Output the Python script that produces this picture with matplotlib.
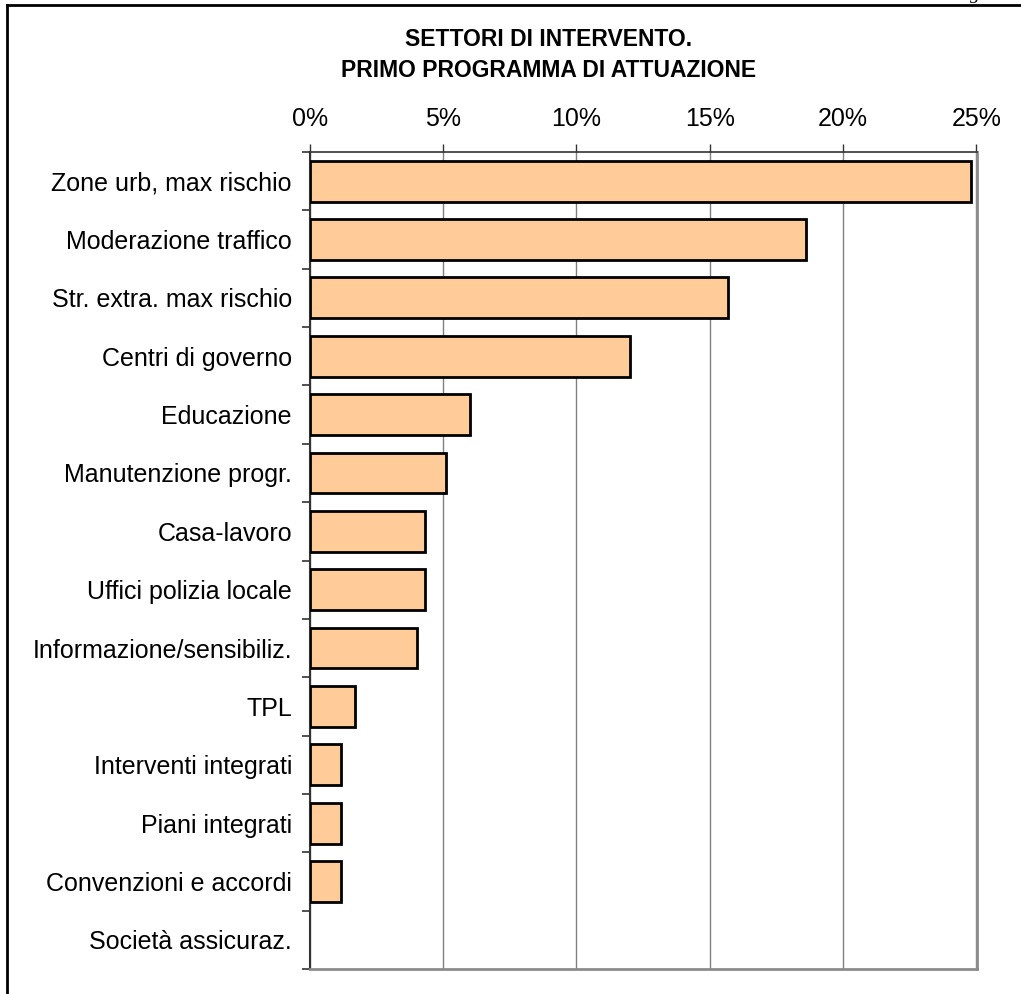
import matplotlib.pyplot as plt
from matplotlib.lines import Line2D
import numpy as np

plt.rcParams['font.family'] = ['Liberation Sans', 'DejaVu Sans']

categories = ['Zone urb, max rischio', 'Moderazione traffico', 'Str. extra. max rischio',
              'Centri di governo', 'Educazione', 'Manutenzione progr.', 'Casa-lavoro',
              'Uffici polizia locale', 'Informazione/sensibiliz.', 'TPL',
              'Interventi integrati', 'Piani integrati', 'Convenzioni e accordi',
              'Società assicuraz.']
values = [24.8, 18.6, 15.7, 12.0, 6.0, 5.1, 4.3, 4.3, 4.0, 1.7, 1.15, 1.15, 1.15, 0.0]
xticks = [0, 5, 10, 15, 20, 25]
title = 'SETTORI DI INTERVENTO.\nPRIMO PROGRAMMA DI ATTUAZIONE'

fig = plt.figure(figsize=(10.21, 9.94), dpi=100)
ax = fig.add_axes([310 / 1021, 1 - 969 / 994, 667 / 1021, 817 / 994])

y = np.arange(len(categories))
edge_w = [2 if v > 0 else 0 for v in values]
ax.barh(y, values, height=0.7, color='#FFCC99', edgecolor='black', linewidth=edge_w, zorder=3)

ax.set_ylim(len(categories) - 0.5, -0.5)
ax.set_xlim(0, 25.03)
ax.set_yticks(y)
ax.set_yticklabels(categories, fontsize=18)
ax.set_yticks(np.arange(-0.5, len(categories), 1), minor=True)
ax.tick_params(axis='y', which='major', length=0, pad=13)
ax.tick_params(axis='y', which='minor', length=6, width=1.2, color='#333333', direction='out')

ax.xaxis.tick_top()
ax.set_xticks(xticks)
ax.set_xticklabels([f'{t}%' for t in xticks], fontsize=18)
ax.tick_params(axis='x', length=6, width=1, color='#333333', direction='out', pad=9)
ax.grid(axis='x', color='#808080', linewidth=1, zorder=0)

ax.spines['top'].set_color('#333333')
ax.spines['top'].set_linewidth(1.2)
ax.spines['left'].set_color('#333333')
ax.spines['left'].set_linewidth(1.5)
ax.spines['right'].set_color('#8c8c8c')
ax.spines['right'].set_linewidth(2)
ax.spines['bottom'].set_color('#8c8c8c')
ax.spines['bottom'].set_linewidth(2)

fig.text(549 / 1021, 1 - 55 / 994, title, ha='center', va='center',
         fontsize=16.5, fontweight='bold', linespacing=1.4)

# outer frame of the chart area (top and left edges visible)
fig.add_artist(Line2D([7 / 1021, 7 / 1021], [0, 1 - 5 / 994], transform=fig.transFigure,
                      color='black', linewidth=2))
fig.add_artist(Line2D([7 / 1021, 1], [1 - 5 / 994, 1 - 5 / 994], transform=fig.transFigure,
                      color='black', linewidth=2))
fig.text(975 / 1021, 1.0 + 1 / 994, 'g', ha='center', va='baseline', fontsize=14,
         family='Liberation Serif', style='italic')

fig.savefig('out.png', dpi=100)
